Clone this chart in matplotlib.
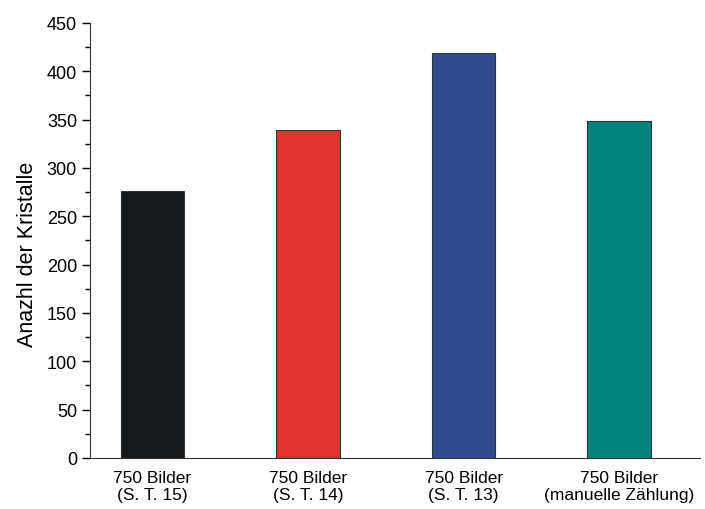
import matplotlib
matplotlib.use("Agg")
import matplotlib.pyplot as plt
from matplotlib.ticker import MultipleLocator

plt.rcParams['font.family'] = ['Liberation Sans', 'DejaVu Sans']

labels = ['750 Bilder\n(S. T. 15)', '750 Bilder\n(S. T. 14)',
          '750 Bilder\n(S. T. 13)', '750 Bilder\n(manuelle Zählung)']
counts = [276, 339, 419, 349]
colors = ['#15181a', '#e0332e', '#344a8e', '#00857e']

fig = plt.figure(figsize=(7.05, 5.1), dpi=100)
ax = fig.add_axes([0.128, 0.1, 0.865, 0.853])

x = range(len(counts))
ax.bar(x, counts, width=0.41, color=colors, edgecolor='#333333', linewidth=0.8)

ax.set_xlim(-0.4, 3.52)
ax.set_ylim(0, 450)
ax.yaxis.set_major_locator(MultipleLocator(50))
ax.yaxis.set_minor_locator(MultipleLocator(25))
ax.set_xticks(list(x))
ax.set_xticklabels(labels, fontsize=12.5, linespacing=1.1)
ax.tick_params(axis='x', length=0, pad=9)
ax.tick_params(axis='y', which='major', direction='out', length=6, width=1, labelsize=13)
ax.tick_params(axis='y', which='minor', direction='out', length=3.5, width=1)
ax.set_ylabel('Anazhl der Kristalle', fontsize=15.5)
ax.yaxis.set_label_coords(-0.085, 0.47)

ax.spines['top'].set_visible(False)
ax.spines['right'].set_visible(False)
ax.spines['left'].set_color('#333333')
ax.spines['bottom'].set_color('#333333')

fig.savefig('out.png', dpi=100)
